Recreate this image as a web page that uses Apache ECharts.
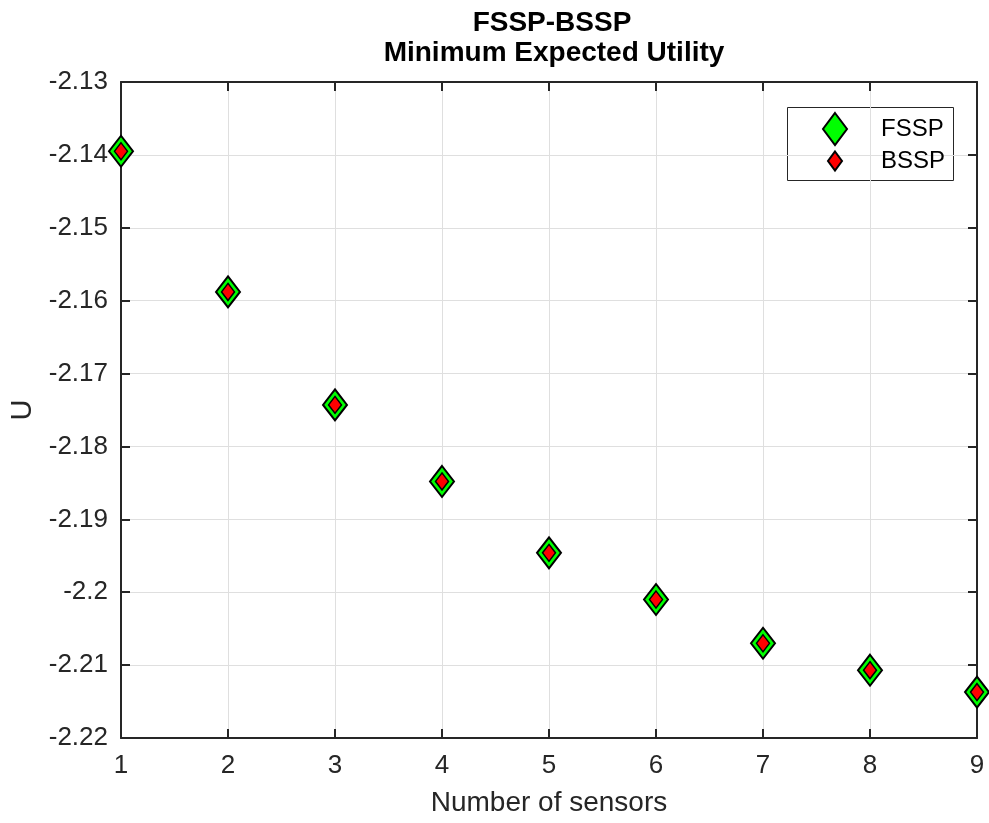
<!DOCTYPE html>
<html>
<head>
<meta charset="utf-8">
<script src="https://cdn.jsdelivr.net/npm/echarts@6/dist/echarts.min.js"></script>
<style>
html,body{margin:0;padding:0;background:#fff;}
#chart{width:989px;height:823px;}
</style>
</head>
<body>
<div id="chart"></div>
<script>
// 传感器数量
var sensors = [1, 2, 3, 4, 5, 6, 7, 8, 9];
// 最小期望效用
var fsspU = [-2.1395, -2.1588, -2.1743, -2.1848, -2.1946, -2.2010, -2.2070, -2.2107, -2.2137];
var bsspU = [-2.1395, -2.1588, -2.1743, -2.1848, -2.1946, -2.2010, -2.2070, -2.2107, -2.2137];

var axisColor = '#262626';
var font = 'Liberation Sans, Arial, sans-serif';

function pairs(xs, ys){
    var out = [];
    for(var i=0;i<xs.length;i++){
        out.push([xs[i], ys[i]]);
    }
    return out;
}

var chart = echarts.init(document.getElementById('chart'));
var option = {
    backgroundColor: '#fff',
    animation: false,
    title: [{
        text: 'FSSP-BSSP',
        left: 547,
        textAlign: 'center',
        top: 4,
        textStyle: {color: '#000', fontFamily: font, fontSize: 28, fontWeight: 'bold'}
    }, {
        text: 'Minimum Expected Utility',
        left: 549,
        textAlign: 'center',
        top: 34,
        textStyle: {color: '#000', fontFamily: font, fontSize: 28, fontWeight: 'bold'}
    }],
    legend: [{
        data: ['FSSP'],
        left: 817,
        top: 107,
        itemWidth: 24,
        itemHeight: 32,
        textStyle: {color: '#000', fontFamily: font, fontSize: 24, padding: [0, 0, 0, 29]}
    }, {
        data: ['BSSP'],
        left: 822,
        top: 144,
        itemWidth: 14,
        itemHeight: 19,
        textStyle: {color: '#000', fontFamily: font, fontSize: 24, padding: [0, 0, 0, 34]}
    }],
    graphic: [{
        type: 'rect',
        shape: {x: 787.5, y: 107.5, width: 166, height: 73},
        style: {fill: '#fff', stroke: '#262626', lineWidth: 1},
        z: -1
    }],
    grid: {
        left: 121,
        right: 12,
        top: 82,
        bottom: 85
    },
    xAxis: [{
        type: 'value',
        min: 1,
        max: 9,
        interval: 1,
        name: 'Number of sensors',
        nameLocation: 'middle',
        nameGap: 51,
        nameTextStyle: {color: axisColor, fontFamily: font, fontSize: 28},
        axisLine: {onZero: false, lineStyle: {color: axisColor, width: 2}},
        axisTick: {inside: true, length: 9, lineStyle: {color: axisColor, width: 2}},
        axisLabel: {color: axisColor, fontFamily: font, fontSize: 26, margin: 15},
        splitLine: {show: true, lineStyle: {color: '#dfdfdf', width: 1}}
    }, {
        type: 'value',
        position: 'top',
        min: 1,
        max: 9,
        interval: 1,
        axisLine: {onZero: false, lineStyle: {color: axisColor, width: 2}},
        axisTick: {inside: true, length: 9, lineStyle: {color: axisColor, width: 2}},
        axisLabel: {show: false},
        splitLine: {show: false}
    }],
    yAxis: [{
        type: 'value',
        min: -2.22,
        max: -2.13,
        interval: 0.01,
        name: 'U',
        nameLocation: 'middle',
        nameGap: 84,
        nameRotate: 90,
        nameTextStyle: {color: axisColor, fontFamily: font, fontSize: 29},
        axisLine: {onZero: false, lineStyle: {color: axisColor, width: 2}},
        axisTick: {inside: true, length: 9, lineStyle: {color: axisColor, width: 2}},
        axisLabel: {
            color: axisColor, fontFamily: font, fontSize: 26, margin: 13,
            formatter: function(v){ return parseFloat(v.toFixed(2)).toString(); }
        },
        splitLine: {show: true, lineStyle: {color: '#dfdfdf', width: 1}}
    }, {
        type: 'value',
        position: 'right',
        min: -2.22,
        max: -2.13,
        interval: 0.01,
        axisLine: {onZero: false, lineStyle: {color: axisColor, width: 2}},
        axisTick: {inside: true, length: 9, lineStyle: {color: axisColor, width: 2}},
        axisLabel: {show: false},
        splitLine: {show: false}
    }],
    series: [{
        name: 'FSSP',
        type: 'scatter',
        symbol: 'diamond',
        symbolSize: [24, 31],
        itemStyle: {color: '#00ff00', borderColor: '#000', borderWidth: 2, opacity: 1},
        data: pairs(sensors, fsspU),
        z: 3
    }, {
        name: 'BSSP',
        type: 'scatter',
        symbol: 'diamond',
        symbolSize: [13, 17],
        itemStyle: {color: '#ff0000', borderColor: '#000', borderWidth: 1.5, opacity: 1},
        data: pairs(sensors, bsspU),
        z: 4
    }]
};
chart.setOption(option);
</script>
</body>
</html>
